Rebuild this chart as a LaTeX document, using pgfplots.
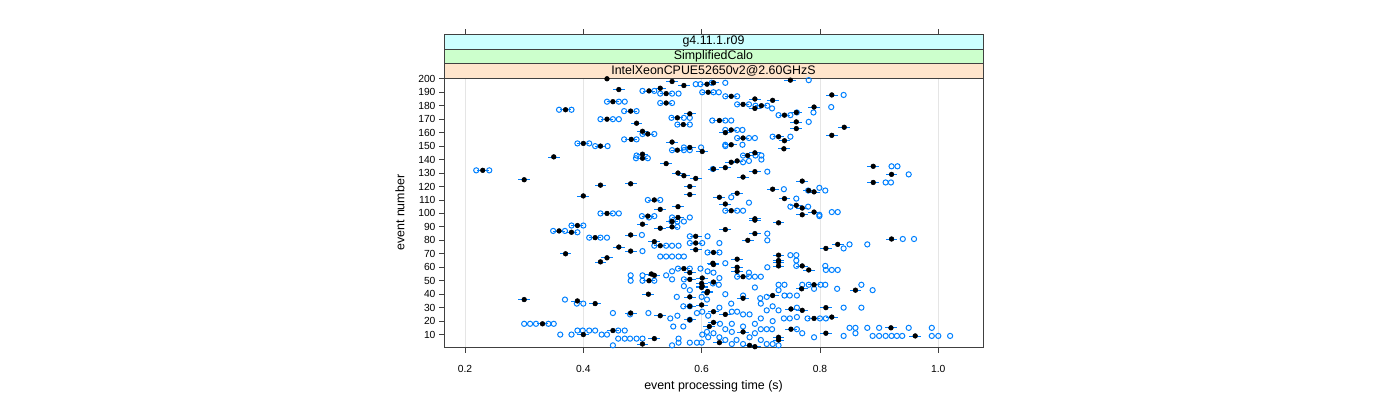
\documentclass[border=0pt]{standalone}
\usepackage{fontspec}
\setmainfont{Liberation Sans}
\usepackage{pgfplots}
\usepackage{pgfplotstable}
\pgfplotsset{compat=1.18}
\definecolor{lblue}{HTML}{0080FF}
\definecolor{stripA}{HTML}{FFE5CC}
\definecolor{stripB}{HTML}{CCFFCC}
\definecolor{stripC}{HTML}{CCFFFF}

% median time per event
\pgfplotstableread{
x e
0.440 200
0.460 192
0.511 191
0.530 193
0.540 189
0.550 198
0.570 195
0.609 196
0.611 190
0.450 183
0.540 182
0.370 177
0.480 176
0.440 170
0.490 167
0.559 171
0.580 174
0.569 166
0.500 161
0.509 159
0.481 155
0.400 152
0.429 150
0.550 153
0.580 149
0.620 197
0.750 199
0.650 187
0.670 181
0.690 185
0.690 178
0.701 180
0.720 184
0.740 173
0.790 179
0.820 188
0.630 169
0.760 175
0.760 168
0.760 163
0.650 162
0.640 160
0.670 156
0.730 157
0.740 154
0.650 151
0.841 164
0.820 158
0.739 148
0.350 142
0.230 132
0.300 125
0.400 113
0.429 121
0.480 122
0.500 144
0.500 141
0.540 137
0.560 130
0.570 128
0.590 126
0.580 120
0.580 114
0.520 110
0.530 103
0.560 105
0.440 100
0.559 147
0.601 146
0.509 98
0.560 97
0.690 145
0.678 143
0.660 139
0.650 138
0.640 134
0.620 133
0.690 131
0.670 127
0.890 135
0.921 129
0.890 123
0.770 124
0.720 118
0.781 117
0.790 116
0.740 111
0.660 115
0.630 112
0.640 107
0.650 102
0.760 106
0.770 104
0.790 101
0.770 99
0.690 96
0.390 91
0.359 87
0.380 86
0.420 82
0.370 70
0.440 67
0.429 64
0.460 75
0.480 72
0.480 84
0.500 92
0.520 79
0.530 76
0.530 89
0.550 94
0.550 90
0.590 83
0.590 78
0.590 73
0.520 54
0.511 50
0.570 59
0.580 56
0.580 51
0.601 52
0.601 46
0.619 63
0.515 55
0.690 95
0.730 93
0.640 88
0.690 85
0.678 80
0.921 81
0.830 77
0.810 74
0.620 71
0.620 62
0.660 66
0.660 60
0.730 69
0.730 65
0.730 64
0.730 61
0.770 61
0.781 58
0.660 57
0.670 53
0.790 47
0.860 43
0.769 44
0.720 39
0.670 37
0.810 30
0.751 29
0.770 28
0.640 25
0.620 27
0.790 22
0.820 23
0.920 15
0.961 9
0.810 11
0.751 14
0.730 8
0.730 6
0.670 12
0.620 19
0.681 2
0.690 1
0.600 45
0.610 42
0.620 49
0.300 36
0.390 35
0.420 33
0.480 26
0.530 24
0.331 18
0.450 13
0.400 10
0.520 7
0.500 3
0.580 38
0.600 32
0.580 31
0.613 16
0.609 41
0.510 40
0.600 48
0.580 21
0.630 4
}\medians

% individual runs
\pgfplotstableread{
x e
0.359 177
0.380 177
0.440 183
0.460 183
0.470 183
0.469 176
0.490 176
0.429 170
0.450 170
0.460 170
0.500 191
0.520 191
0.530 189
0.550 189
0.561 189
0.530 182
0.550 182
0.590 196
0.598 196
0.601 190
0.620 190
0.617 197
0.549 171
0.570 171
0.580 171
0.559 166
0.580 166
0.500 159
0.520 159
0.469 155
0.490 155
0.390 152
0.410 152
0.420 150
0.441 150
0.570 149
0.599 149
0.618 169
0.640 197
0.781 199
0.629 190
0.640 187
0.660 187
0.660 181
0.680 181
0.691 180
0.711 180
0.719 178
0.819 179
0.840 188
0.730 173
0.750 173
0.761 175
0.789 175
0.640 169
0.650 169
0.781 168
0.640 162
0.660 162
0.669 162
0.660 156
0.680 156
0.690 156
0.720 157
0.750 157
0.640 151
0.669 151
0.219 132
0.241 132
0.489 141
0.509 141
0.490 143
0.509 110
0.530 110
0.429 100
0.450 100
0.460 100
0.499 98
0.520 98
0.550 147
0.570 147
0.580 147
0.550 97
0.580 97
0.619 133
0.640 150
0.670 143
0.691 143
0.701 143
0.680 139
0.670 138
0.701 140
0.711 131
0.921 135
0.931 135
0.950 129
0.911 123
0.920 123
0.739 118
0.780 117
0.799 119
0.809 117
0.760 111
0.650 112
0.680 108
0.750 105
0.780 105
0.640 102
0.660 102
0.670 102
0.799 99
0.820 101
0.830 101
0.380 91
0.400 91
0.349 87
0.369 87
0.390 86
0.410 82
0.429 82
0.440 82
0.499 84
0.500 72
0.520 76
0.540 76
0.550 76
0.561 76
0.530 68
0.540 68
0.550 68
0.561 68
0.570 68
0.580 83
0.580 78
0.601 78
0.610 83
0.610 71
0.511 97
0.549 94
0.559 94
0.570 94
0.559 90
0.480 54
0.500 54
0.540 54
0.480 50
0.500 50
0.520 50
0.550 57
0.560 59
0.580 59
0.598 59
0.610 57
0.550 51
0.570 51
0.570 46
0.619 48
0.799 98
0.711 85
0.711 80
0.940 81
0.959 81
0.850 77
0.840 74
0.880 77
0.630 71
0.630 78
0.640 63
0.711 60
0.750 69
0.760 69
0.760 65
0.760 61
0.809 61
0.810 58
0.820 58
0.830 58
0.680 56
0.680 53
0.690 53
0.700 53
0.660 53
0.620 56
0.630 52
0.730 47
0.740 47
0.770 47
0.781 47
0.801 47
0.809 47
0.870 47
0.629 47
0.829 44
0.889 43
0.790 44
0.730 43
0.710 38
0.740 39
0.749 39
0.761 39
0.699 37
0.670 39
0.840 30
0.870 30
0.710 28
0.730 28
0.761 30
0.779 22
0.800 22
0.810 22
0.749 22
0.739 22
0.761 23
0.700 22
0.681 25
0.670 25
0.651 27
0.660 27
0.850 15
0.860 15
0.880 15
0.900 15
0.950 15
0.989 15
0.840 9
0.860 11
0.889 9
0.900 9
0.911 9
0.921 9
0.930 9
0.939 9
0.989 9
1.000 9
1.020 9
0.790 8
0.770 11
0.761 14
0.710 14
0.719 14
0.700 14
0.690 11
0.681 8
0.710 3
0.720 3
0.730 2
0.670 3
0.659 6
0.651 3
0.640 6
0.630 8
0.620 11
0.609 12
0.631 18
0.651 18
0.670 16
0.369 36
0.389 33
0.400 33
0.450 26
0.479 25
0.510 26
0.547 22
0.559 24
0.300 18
0.310 18
0.320 18
0.341 18
0.350 18
0.361 10
0.380 10
0.390 13
0.399 13
0.410 13
0.420 13
0.431 10
0.440 10
0.459 13
0.470 13
0.450 2
0.459 7
0.470 7
0.479 7
0.490 7
0.500 7
0.550 2
0.561 7
0.561 4
0.580 4
0.592 4
0.600 4
0.552 16
0.569 16
0.580 21
0.592 26
0.580 31
0.569 31
0.558 38
0.600 38
0.609 36
0.580 43
0.601 10
0.611 8
0.640 14
0.651 12
0.700 6
0.690 18
0.720 20
0.611 24
0.630 30
0.650 33
0.700 33
0.720 31
0.601 27
0.640 40
0.690 45
}\runs

\begin{document}
\begin{tikzpicture}
\path[use as bounding box] (0,0) rectangle (1400pt,400pt);
\begin{axis}[
  at={(444pt,52.5pt)}, anchor=south west,
  scale only axis, width=539pt, height=313pt,
  xmin=0.1645, xmax=1.0756, ymin=0.4, ymax=232.9,
  xtick={0.2,0.4,0.6,0.8,1.0},
  xticklabels={0.2,0.4,0.6,0.8,1.0},
  ytick={10,20,...,200},
  xtick pos=both, xticklabel pos=lower, ytick pos=left,
  tick align=outside, major tick length=5pt,
  xmajorgrids, grid style={black!10, line width=0.6pt},
  axis line style={black!75, line width=0.8pt},
  tick style={black!75, line width=0.8pt},
  /pgf/number format/assume math mode=true,
  ticklabel style={font=\fontsize{10.3}{12}\selectfont},
  xticklabel style={yshift=-9pt},
  label style={font=\fontsize{12.4}{14}\selectfont},
  xlabel={event processing time (s)},
  ylabel={event number},
  xlabel style={at={(axis description cs:0.5,-0.124)}, anchor=center},
  ylabel style={at={(axis description cs:-0.0816,0.4305)}, anchor=center},
]
% spread of the short runs, drawn first
\addplot[lblue, only marks, mark=none,
  error bars/.cd, x dir=both, x fixed=0.010, error mark=none,
  error bar style={draw=lblue, line width=0.7pt}] table[x=x, y=e] {\medians};
\addplot[only marks, mark=o, mark size=2.6pt, lblue,
  mark options={line width=1pt, fill=white}] table[x=x, y=e] {\runs};
\addplot[only marks, mark=*, mark size=2.4pt, black] table[x=x, y=e] {\medians};
% strips
\filldraw[fill=stripA, draw=black!75, line width=0.8pt]
  (rel axis cs:0,0.861) rectangle (rel axis cs:1,0.9073);
\filldraw[fill=stripB, draw=black!75, line width=0.8pt]
  (rel axis cs:0,0.9073) rectangle (rel axis cs:1,0.9537);
\filldraw[fill=stripC, draw=black!75, line width=0.8pt]
  (rel axis cs:0,0.9537) rectangle (rel axis cs:1,1);
\node[font=\fontsize{12.4}{14}\selectfont] at (rel axis cs:0.5,0.8842) {IntelXeonCPUE52650v2@2.60GHzS};
\node[font=\fontsize{12.4}{14}\selectfont] at (rel axis cs:0.5,0.9305) {SimplifiedCalo};
\node[font=\fontsize{12.4}{14}\selectfont] at (rel axis cs:0.5,0.9768) {g4.11.1.r09};
\end{axis}
\end{tikzpicture}
\end{document}
